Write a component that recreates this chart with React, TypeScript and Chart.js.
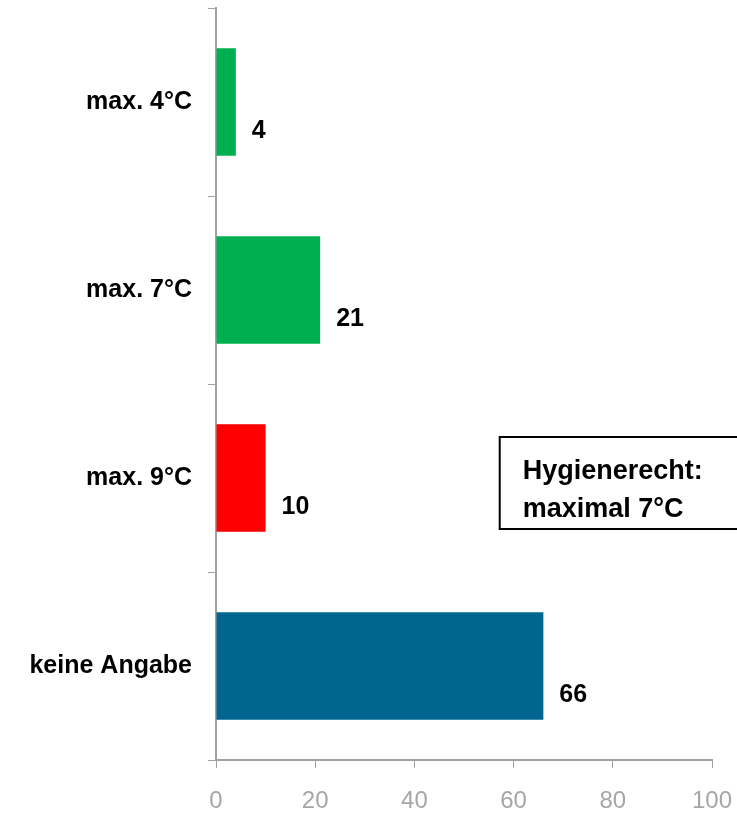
import React, { useEffect, useRef } from "react";
import { Chart, registerables } from "chart.js";

Chart.register(...registerables);

const categories = ["max. 4°C", "max. 7°C", "max. 9°C", "keine Angabe"];
const values = [4, 21, 10, 66];
const barColors = ["#00B050", "#00B050", "#FF0000", "#00658F"];
const xTicks = [0, 20, 40, 60, 80, 100];
const noteLines = ["Hygienerecht:", "maximal 7°C"];

const FONT = "'Liberation Sans', Arial, Helvetica, sans-serif";

const valueLabelPlugin = {
  id: "valueLabels",
  afterDatasetsDraw(chart: any) {
    const ctx = chart.ctx;
    const meta = chart.getDatasetMeta(0);
    ctx.save();
    ctx.font = `bold 25px ${FONT}`;
    ctx.fillStyle = "#000";
    ctx.textAlign = "left";
    ctx.textBaseline = "middle";
    meta.data.forEach((bar: any, i: number) => {
      ctx.fillText(String(values[i]), bar.x + 16, bar.y + 29);
    });
    ctx.restore();
  },
};

const notePlugin = {
  id: "noteBox",
  afterDraw(chart: any) {
    const ctx = chart.ctx;
    const x = chart.scales.x;
    const left = x.getPixelForValue(57.2);
    const top = 437;
    const bottom = 529;
    ctx.save();
    ctx.fillStyle = "#fff";
    ctx.fillRect(left, top, chart.width - left + 10, bottom - top);
    ctx.strokeStyle = "#000";
    ctx.lineWidth = 2;
    ctx.strokeRect(left, top, chart.width - left + 10, bottom - top);
    ctx.font = `bold 27px ${FONT}`;
    ctx.fillStyle = "#000";
    ctx.textAlign = "left";
    ctx.textBaseline = "alphabetic";
    noteLines.forEach((t, i) => {
      ctx.fillText(t, left + 23, 479 + i * 38);
    });
    ctx.restore();
  },
};

export default function App() {
  const ref = useRef<HTMLCanvasElement | null>(null);
  useEffect(() => {
    if (!ref.current) return;
    const chart = new Chart(ref.current, {
      type: "bar",
      data: {
        labels: categories,
        datasets: [
          {
            data: values,
            backgroundColor: barColors,
            borderWidth: 0,
            categoryPercentage: 1,
            barPercentage: 0.572,
          },
        ],
      },
      options: {
        indexAxis: "y",
        animation: false,
        responsive: false,
        maintainAspectRatio: false,
        layout: { padding: { top: 8, right: 25, left: 0, bottom: 0 } },
        plugins: {
          legend: { display: false },
          tooltip: { enabled: false },
        },
        scales: {
          x: {
            min: 0,
            max: 100,
            afterBuildTicks: (scale: any) => {
              scale.ticks = xTicks.map((v) => ({ value: v }));
            },
            afterFit: (scale: any) => {
              scale.height = 54;
              scale.paddingLeft = 0;
              scale.paddingRight = 0;
              scale.paddingTop = 0;
              scale.paddingBottom = 0;
            },
            grid: {
              drawOnChartArea: false,
              drawTicks: true,
              tickLength: 8,
              color: "#a0a0a0",
              lineWidth: 1,
            },
            border: { display: true, color: "#a0a0a0", width: 2 },
            ticks: {
              color: "#a6a6a6",
              font: { family: FONT, size: 24 },
              padding: 19,
              maxRotation: 0,
            },
          },
          y: {
            afterFit: (scale: any) => {
              scale.width = 216;
              scale.paddingLeft = 0;
              scale.paddingRight = 0;
              scale.paddingTop = 0;
              scale.paddingBottom = 0;
            },
            grid: {
              drawOnChartArea: false,
              drawTicks: true,
              tickLength: 8,
              color: "#a0a0a0",
              lineWidth: 1,
              offset: true,
            },
            border: { display: true, color: "#a0a0a0", width: 2 },
            ticks: {
              color: "#000",
              font: { family: FONT, size: 25, weight: "bold" },
              padding: 16,
            },
          },
        },
      },
      plugins: [valueLabelPlugin, notePlugin],
    });
    return () => chart.destroy();
  }, []);

  return (
    <div style={{ position: "fixed", left: 0, top: 0, width: 737, height: 814, background: "#fff" }}>
      <canvas ref={ref} width={737} height={814} style={{ width: 737, height: 814, display: "block" }} />
    </div>
  );
}
